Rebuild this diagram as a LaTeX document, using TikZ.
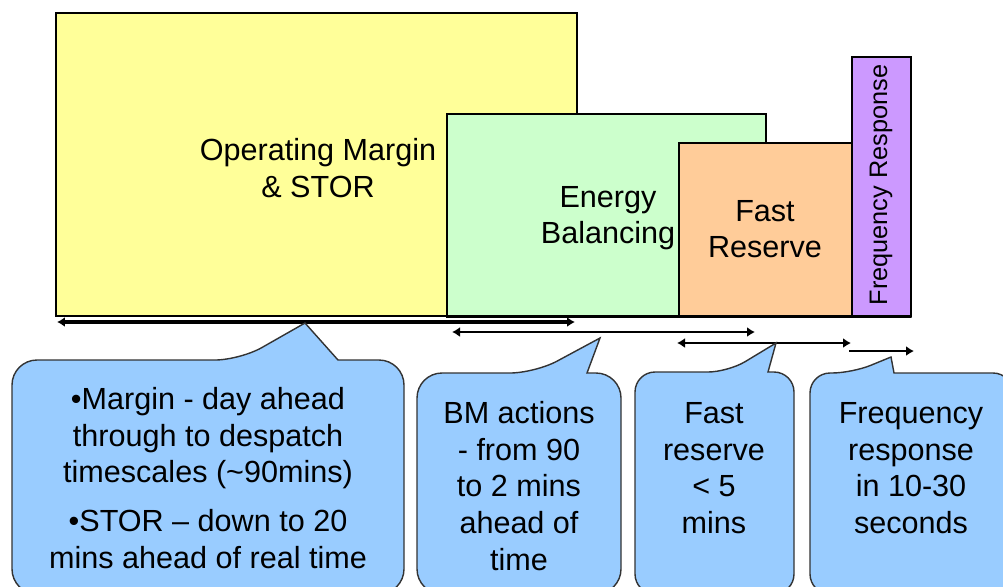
\documentclass[tikz,border=0pt]{standalone}
\usepackage{fontspec}
\setmainfont{Liberation Sans}
\usetikzlibrary{arrows.meta}

\definecolor{marginfill}{HTML}{FFFF99}
\definecolor{balfill}{HTML}{CCFFCC}
\definecolor{fastfill}{HTML}{FFCC99}
\definecolor{freqfill}{HTML}{CC99FF}
\definecolor{callfill}{HTML}{99CCFF}

\tikzset{
  band/.style={draw=black, line width=0.9pt, inner sep=0pt, anchor=north west},
  bandtext/.style={align=center, inner sep=0pt, font=\fontsize{17.4}{20.8}\selectfont},
  callout/.style={draw=black!80, line width=0.8pt, fill=callfill},
  calltext/.style={align=center, inner sep=0pt, font=\fontsize{17.4}{20.8}\selectfont},
  span/.style={line width=1.6pt, {Latex[length=0.16cm,width=0.2cm]}-{Latex[length=0.16cm,width=0.2cm]}}
}

\begin{document}
\begin{tikzpicture}[x=0.02cm, y=-0.02cm]
	\useasboundingbox (0,0) rectangle (1003,586);

	% reserve bands, from slowest to fastest
	\node [band, fill=marginfill, minimum width=521*0.02cm, minimum height=303*0.02cm] (margin) at (55,12) {};
	\node [band, fill=balfill, minimum width=319*0.02cm, minimum height=202*0.02cm] (balancing) at (446,113) {};
	\node [band, fill=fastfill, minimum width=173*0.02cm, minimum height=173*0.02cm] (fastres) at (678,142) {};
	\node [band, fill=freqfill, minimum width=59*0.02cm, minimum height=259*0.02cm] (freqresp) at (851,56) {};

	\node [bandtext] (marginlabel) at (318,168) {Operating Margin\\\& STOR};
	\node [bandtext] (ballabel) at (608,218) {Energy\\Balancing};
	\node [bandtext] (fastlabel) at (765,229) {Fast\\Reserve};
	\node [rotate=90, inner sep=0pt, font=\fontsize{14.4}{17}\selectfont] (freqlabel) at (881,185) {Frequency Response};

	% base line
	\draw [line width=1.6pt] (balancing.south west) -- (freqresp.south east);

	% timescale spans
	\coordinate (s1a) at (57,322);  \coordinate (s1b) at (575,322);
	\coordinate (s2a) at (452,332); \coordinate (s2b) at (755,332);
	\coordinate (s3a) at (677,343); \coordinate (s3b) at (851,343);
	\coordinate (s4a) at (849,351); \coordinate (s4b) at (914,351);
	\draw [span, line width=2pt] (s1a) -- (s1b);
	\draw [span] (s2a) -- (s2b);
	\draw [span] (s3a) -- (s3b);
	\draw [line width=1.6pt, -{Latex[length=0.16cm,width=0.2cm]}] (s4a) -- (s4b);

	% callouts
	\draw [callout, rounded corners=0.5cm] (12,480) -- (12,360) -- (240,360) [sharp corners] -- (305,323) -- (338,360) -- (345,360) [rounded corners=0.5cm] -- (404,360) -- (404,594) -- (12,594) -- cycle;
	\draw [callout, rounded corners=0.5cm] (417,480) -- (417,373) -- (535,373) [sharp corners] -- (600,338) -- (587,373) -- (592,373) [rounded corners=0.5cm] -- (621,373) -- (621,594) -- (417,594) -- cycle;
	\draw [callout, rounded corners=0.4cm] (635,480) -- (635,372) -- (728,372) [sharp corners] -- (776,343) -- (768,372) -- (772,372) [rounded corners=0.4cm] -- (794,372) -- (794,594) -- (635,594) -- cycle;
	\draw [callout, rounded corners=0.4cm] (810,480) -- (810,373) -- (852,373) [sharp corners] -- (891,357) -- (894,373) -- (900,373) [rounded corners=0.4cm] -- (1013,373) -- (1013,594) -- (810,594) -- cycle;

	\node [calltext] (margintext) at (208,478) {•Margin - day ahead\\through to despatch\\timescales (\textasciitilde90mins)\\[7pt]•STOR – down to 20\\mins ahead of real time};
	\node [calltext] (baltext) at (519,486) {BM actions\\- from 90\\to 2 mins\\ahead of\\time};
	\node [calltext] (fasttext) at (714,468) {Fast\\reserve\\< 5\\mins};
	\node [calltext] (freqtext) at (911,468) {Frequency\\response\\in 10-30\\seconds};
\end{tikzpicture}
\end{document}
